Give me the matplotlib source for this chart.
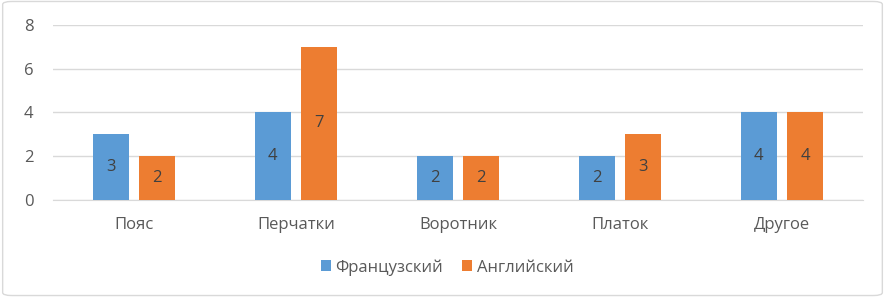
import matplotlib.pyplot as plt
import numpy as np
from matplotlib.patches import FancyBboxPatch

# данные
categories = ['Пояс', 'Перчатки', 'Воротник', 'Платок', 'Другое']
french = [3, 4, 2, 2, 4]
english = [2, 7, 2, 3, 4]

plt.rcParams['font.family'] = ['Open Sans', 'DejaVu Sans']

fig = plt.figure(figsize=(8.85, 2.97), dpi=100)
# рамка вокруг диаграммы
fig.patches.append(FancyBboxPatch((0.003, 0.005), 0.994, 0.99, boxstyle='round,pad=0,rounding_size=0.01',
                                  transform=fig.transFigure, fill=False, edgecolor='#D9D9D9', linewidth=1))
ax = fig.add_axes([0.06, 0.327, 0.915, 0.589])

x = np.arange(len(categories))
w = 0.22
b1 = ax.bar(x - 0.143, french, w, color='#5B9BD5', label='Французский', zorder=3)
b2 = ax.bar(x + 0.143, english, w, color='#ED7D31', label='Английский', zorder=3)
for bars in (b1, b2):
    ax.bar_label(bars, label_type='center', color='#404040', fontsize=12)

ax.set_xlim(-0.5, len(categories) - 0.5)
ax.set_ylim(0, 8)
ax.set_yticks(range(0, 9, 2))
ax.set_xticks(x)
ax.set_xticklabels(categories)
ax.tick_params(axis='both', length=0, labelsize=12, colors='#595959')
ax.tick_params(axis='x', pad=12)
ax.tick_params(axis='y', pad=14)
ax.yaxis.grid(True, color='#D9D9D9', linewidth=1, zorder=0)
for s in ['top', 'right', 'left']:
    ax.spines[s].set_visible(False)
ax.spines['bottom'].set_color('#D9D9D9')

fig.legend(loc='center', bbox_to_anchor=(0.505, 0.1), ncol=2, frameon=False, fontsize=12,
           labelcolor='#595959', handlelength=0.6, handleheight=0.6, columnspacing=1.1, handletextpad=0.3)

fig.savefig('out.png', dpi=100)
